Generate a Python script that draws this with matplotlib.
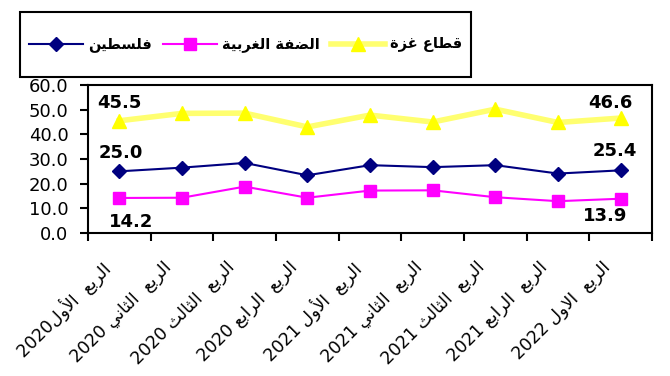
import re
import unicodedata
import numpy as np
import matplotlib
matplotlib.use('Agg')
import matplotlib.pyplot as plt
import matplotlib.transforms as mtransforms
from matplotlib.lines import Line2D
from matplotlib.patches import Rectangle

# Data (percent)
quarters = ['الربع  الأول2020', 'الربع  الثاني 2020', 'الربع  الثالث 2020',
            'الربع  الرابع 2020', 'الربع  الأول 2021', 'الربع  الثاني 2021',
            'الربع  الثالث 2021', 'الربع  الرابع 2021', 'الربع  الاول 2022']
series_names = ['فلسطين', 'الضفة الغربية', 'قطاع غزة']
palestine = [25.0, 26.5, 28.4, 23.4, 27.5, 26.7, 27.5, 24.1, 25.4]
west_bank = [14.2, 14.3, 18.8, 14.3, 17.2, 17.3, 14.5, 12.9, 13.9]
gaza = [45.5, 48.5, 48.6, 43.0, 47.8, 45.0, 50.2, 44.8, 46.6]


def _forms(unit):
    if unit.startswith('LA:'):
        alef = unicodedata.name(unit[3:]).replace('ARABIC LETTER ', '')
        name = 'ARABIC LIGATURE LAM WITH ' + alef
    else:
        try:
            name = unicodedata.name(unit)
        except ValueError:
            return {}
        if not name.startswith('ARABIC LETTER'):
            return {}
    f = {}
    for k in ('ISOLATED', 'FINAL', 'INITIAL', 'MEDIAL'):
        try:
            f[k] = unicodedata.lookup(f'{name} {k} FORM')
        except KeyError:
            pass
    return f


def ar(text):
    # minimal arabic shaping + right-to-left visual order
    units = []
    i = 0
    while i < len(text):
        if text[i] == 'ل' and i + 1 < len(text) and text[i + 1] in 'اأإآ':
            units.append('LA:' + text[i + 1])
            i += 2
        else:
            units.append(text[i])
            i += 1
    fs = [_forms(u) for u in units]
    out = ''
    for j, u in enumerate(units):
        f = fs[j]
        if not f:
            out += u
            continue
        prev = j > 0 and 'INITIAL' in fs[j - 1]
        nxt = j + 1 < len(units) and bool(fs[j + 1]) and 'INITIAL' in f
        if prev and nxt:
            k = 'MEDIAL'
        elif prev:
            k = 'FINAL'
        elif nxt:
            k = 'INITIAL'
        else:
            k = 'ISOLATED'
        out += f.get(k, f.get('ISOLATED', u))
    tokens = re.findall(r'[0-9.]+|[^0-9.]+', out)
    return ''.join(t if re.match(r'[0-9.]', t) else t[::-1] for t in tokens[::-1])


plt.rcParams['font.family'] = ['DejaVu Sans']

W, H = 670, 376
fig = plt.figure(figsize=(W / 100, H / 100), dpi=100)
ax = fig.add_axes([88 / W, 1 - 233 / H, 564 / W, 148 / H])

styles = [dict(color='#000080', lw=1.5, marker='D', ms=7),
          dict(color='#FF00FF', lw=1.5, marker='s', ms=9),
          dict(color='#FFFF70', lw=4, marker='^', ms=10,
               markerfacecolor='#FFFF00', markeredgecolor='#FFFF00')]

x = np.arange(len(quarters))
for vals, st in zip([palestine, west_bank, gaza], styles):
    ax.plot(x, vals, **st)

ax.set_xlim(-0.5, len(quarters) - 0.5)
ax.set_ylim(0, 60)
ax.set_yticks(np.arange(0, 61, 10))
ax.set_yticklabels([f'{v:.1f}' for v in np.arange(0, 61, 10)], fontsize=13)
ax.set_xticks(np.arange(-0.5, len(quarters), 1))
ax.set_xticklabels([])
ax.tick_params(axis='both', direction='out', length=6, width=1.5, colors='black')
ax.tick_params(axis='y', pad=8)
for s in ax.spines.values():
    s.set_linewidth(1.5)
    s.set_color('black')

off = mtransforms.ScaledTranslation(-14 / 72, -18 / 72, fig.dpi_scale_trans)
for xi, q in zip(x, quarters):
    ax.text(xi, 0, ar(q), transform=ax.get_xaxis_transform() + off,
            rotation=45, rotation_mode='anchor', ha='right', va='top',
            fontsize=12.5)

# end-point value labels
labels = [(0, gaza[0], 0, 13), (0, palestine[0], 1, 13), (0, west_bank[0], 8.6, -17.5),
          (8, gaza[8], -7.5, 11), (8, palestine[8], -4.3, 14), (8, west_bank[8], -11.5, -12.5)]
for xi, v, dx, dy in labels:
    ax.annotate(f'{v:.1f}', (xi, v), xytext=(dx, dy), textcoords='offset points',
                ha='center', va='center', fontsize=13, fontweight='bold')

# legend box drawn by hand, items spread to fill the box
bx0, bx1, by0, by1 = 20, 471, 12, 77
fig.add_artist(Rectangle((bx0 / W, 1 - by1 / H), (bx1 - bx0) / W, (by1 - by0) / H,
                         transform=fig.transFigure, fill=False, edgecolor='black', lw=1.5))
ly = 1 - 44 / H
renderer = fig.canvas.get_renderer()
texts = [fig.text(0, ly, ar(n), ha='left', va='center', fontsize=10.5, fontweight='bold')
         for n in series_names]
tw = [t.get_window_extent(renderer).width for t in texts]
hl, pad, margin = 54, 5, 9
gap = ((bx1 - bx0) - 2 * margin - sum(tw) - 3 * (hl + pad)) / 2
cx = bx0 + margin
for t, w, st in zip(texts, tw, styles):
    fig.add_artist(Line2D([cx / W, (cx + hl) / W], [ly, ly], transform=fig.transFigure,
                          color=st['color'], lw=st['lw']))
    mst = {k: v for k, v in st.items() if k != 'lw'}
    fig.add_artist(Line2D([(cx + hl / 2) / W], [ly], transform=fig.transFigure,
                          linestyle='none', **mst))
    t.set_x((cx + hl + pad) / W)
    cx += hl + pad + w + gap

fig.savefig('out.png', dpi=100)
